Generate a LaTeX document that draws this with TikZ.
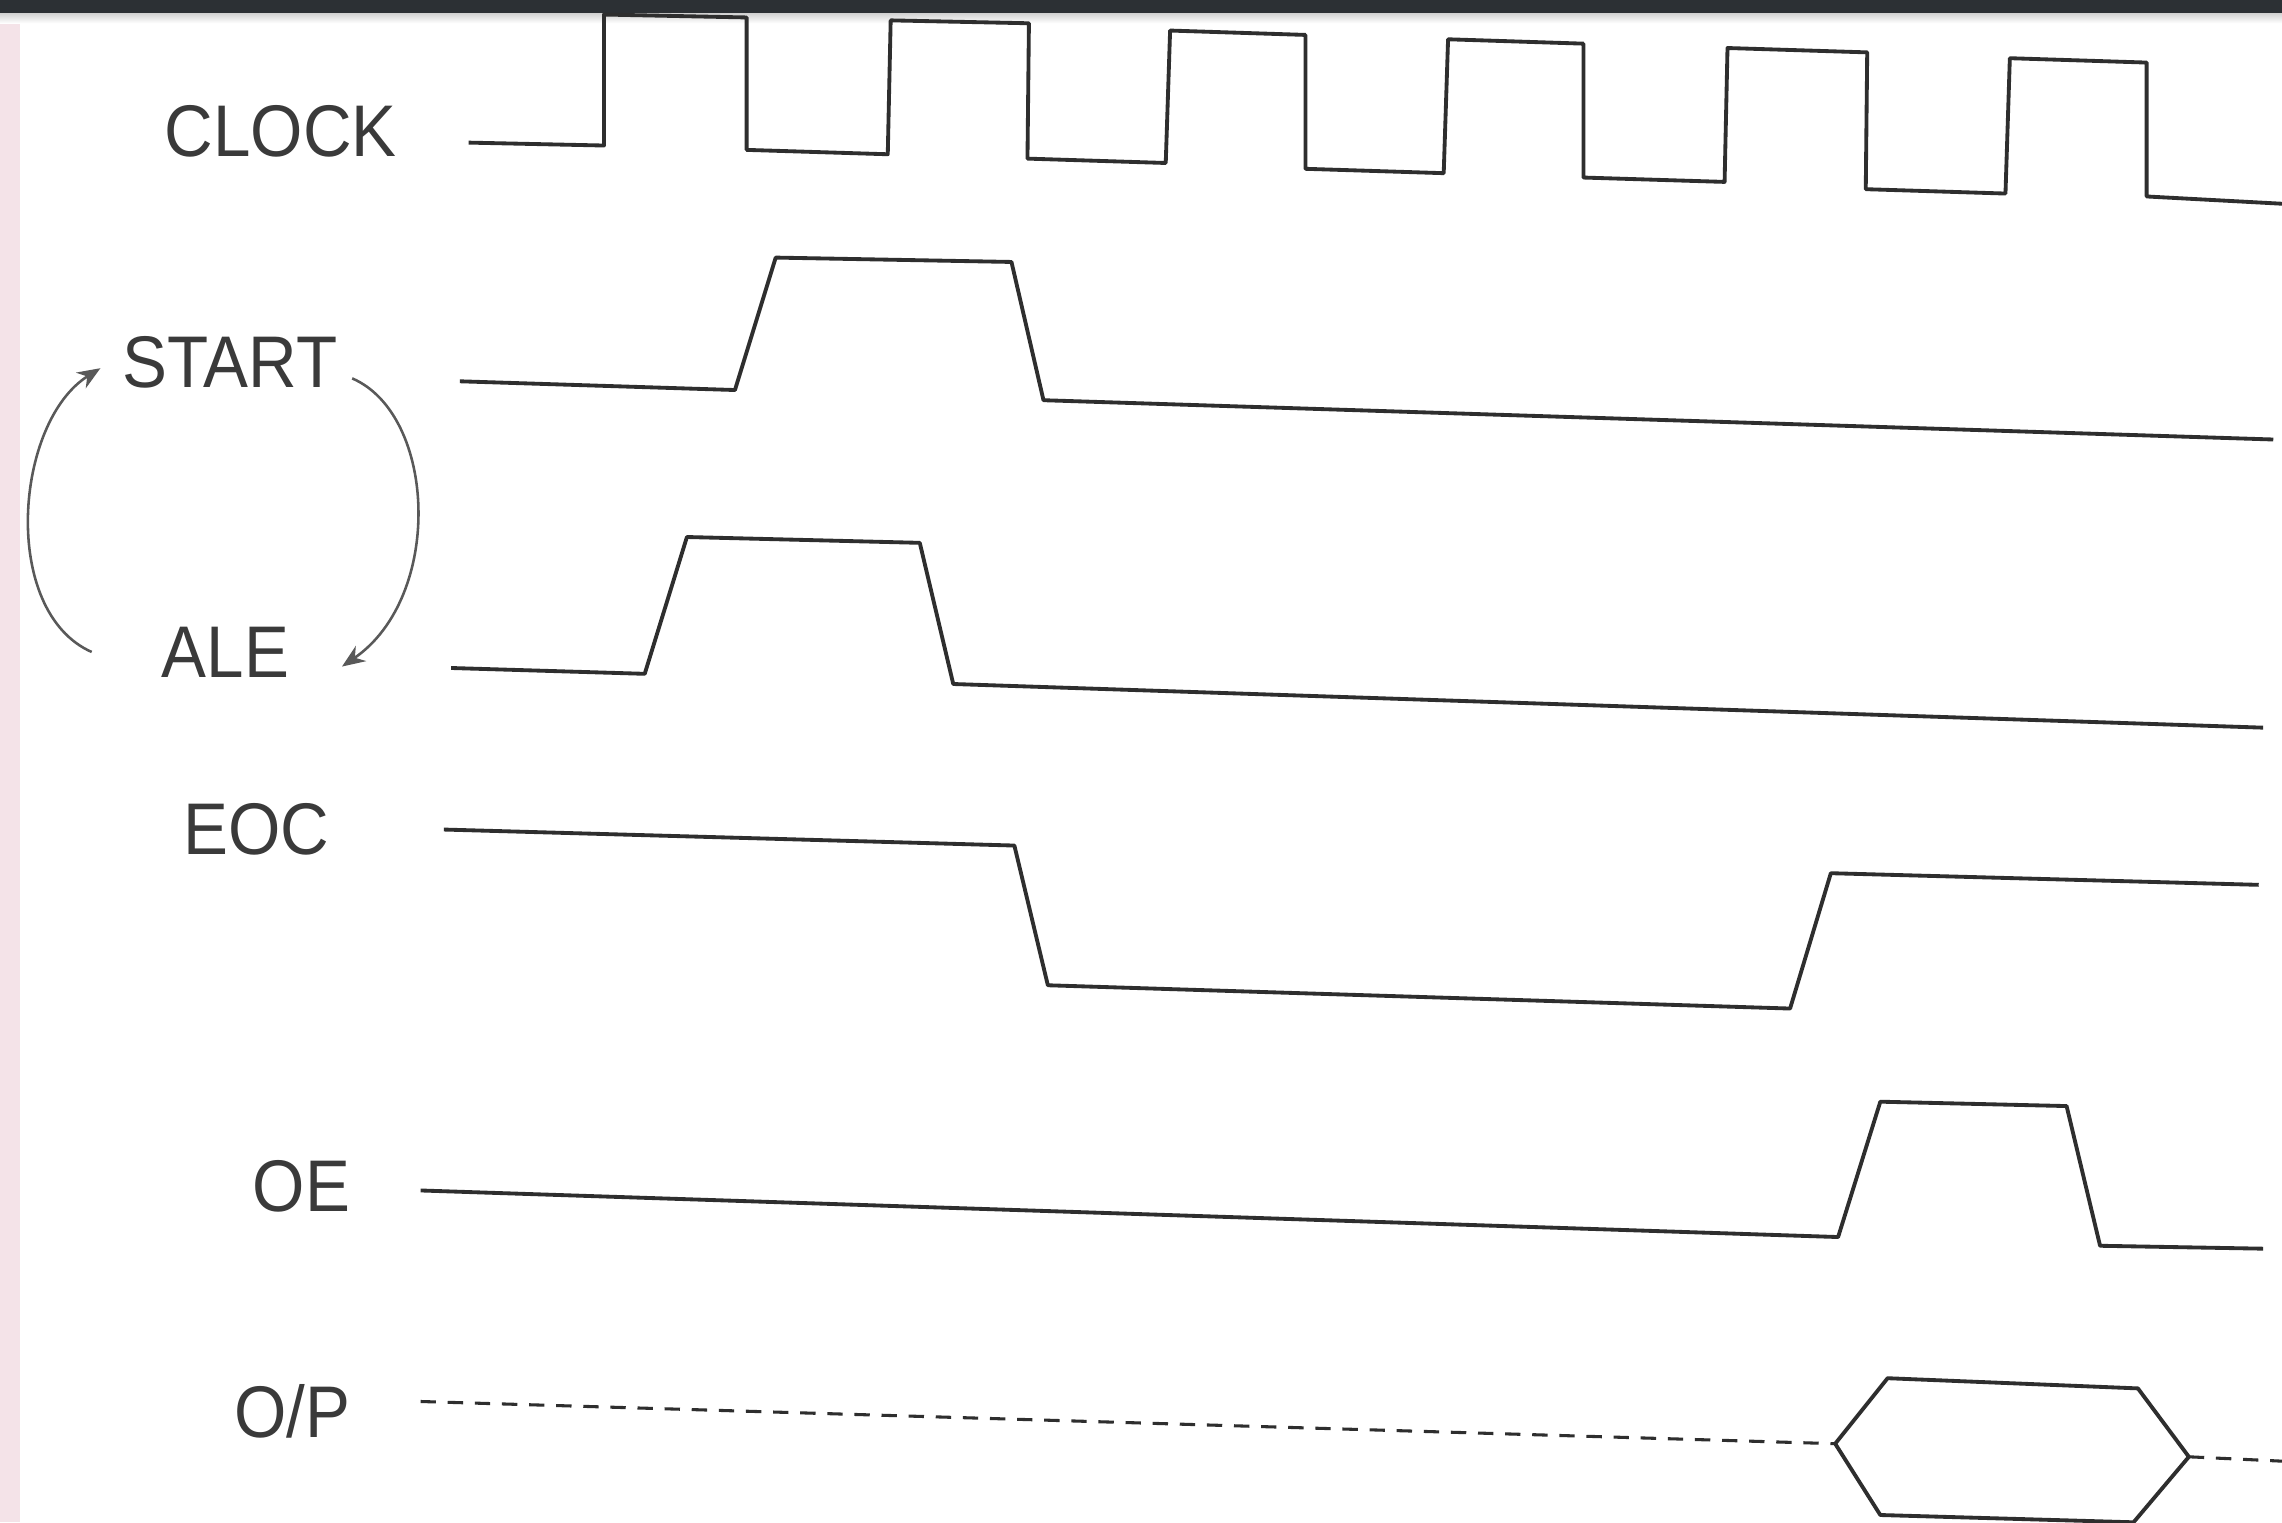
\documentclass[tikz,border=0pt]{standalone}
\usepackage{fontspec}
\setmainfont{Liberation Sans}[FakeStretch=0.92]
\usetikzlibrary{arrows.meta}
\definecolor{ink}{HTML}{2E2E2E}
\definecolor{txt}{HTML}{3A3A3A}
\definecolor{bar}{HTML}{2C3034}
\definecolor{pinkstrip}{HTML}{F4E3E8}
\tikzset{
  wave/.style={draw=ink, line width=0.75pt, line join=round},
  dwave/.style={draw=ink, line width=0.6pt, dash pattern=on 3pt off 2.3pt},
  lbl/.style={text=txt, font=\fontsize{14.3}{16}\selectfont, inner sep=0pt},
  arcline/.style={draw=black!65, line width=0.5pt, -{Stealth[length=4.5pt,width=3.6pt]}}
}
\begin{document}
\begin{tikzpicture}[x=0.01cm,y=-0.01cm]
\useasboundingbox (0,0) rectangle (1568,1046);
\clip (0,0) rectangle (1568,1046);
\fill[white] (0,0) rectangle (1568,1046);
\fill[pinkstrip] (0,0) rectangle (14,1046);
\shade[top color=black!18, bottom color=white] (0,9) rectangle (1568,16);
\fill[bar] (0,0) rectangle (1568,9);

% labels
\node[lbl] (clock) at (193,90) {CLOCK};
\node[lbl] (start) at (158,249) {START};
\node[lbl] (ale) at (155,448) {ALE};
\node[lbl] (eoc) at (176,570) {EOC};
\node[lbl] (oe) at (207,815) {OE};
\node[lbl] (op) at (201,970) {O/P};

% CLOCK
\draw[wave] (322,98) -- (415,100) -- (415,10) -- (513,12) -- (513,103) -- (610,106)
  -- (612,14) -- (707,16) -- (706,109) -- (801,112) -- (804,21) -- (897,24)
  -- (897,116) -- (992,119) -- (995,27) -- (1088,30) -- (1088,122) -- (1185,125)
  -- (1187,33) -- (1283,36) -- (1282,130) -- (1378,133) -- (1381,40) -- (1475,43)
  -- (1475,135) -- (1568,140);

% START
\draw[wave] (316,262) -- (505,268) -- (533,177) -- (695,180) -- (717,275) -- (1562,302);

% ALE
\draw[wave] (310,459) -- (443,463) -- (472,369) -- (632,373) -- (655,470) -- (1555,500);

% EOC
\draw[wave] (305,570) -- (697,581) -- (720,677) -- (1230,693) -- (1258,600) -- (1552,608);

% OE
\draw[wave] (289,818) -- (1263,850) -- (1292,757) -- (1420,760) -- (1443,856) -- (1555,858);

% O/P
\draw[dwave] (289,963) -- (1261,992);
\draw[wave] (1261,992) -- (1297,947) -- (1469,954) -- (1504,1001) -- (1466,1046)
  -- (1292,1041) -- cycle;
\draw[dwave] (1504,1001) -- (1568,1004);

% arcs between START and ALE
\coordinate (la) at (63,448);
\coordinate (ls) at (69,253);
\coordinate (rs) at (242,260);
\coordinate (ra) at (235,458);
\draw[arcline] (la) .. controls (0,420) and (10,290) .. (ls);
\draw[arcline] (rs) .. controls (300,285) and (305,410) .. (ra);
\end{tikzpicture}
\end{document}
